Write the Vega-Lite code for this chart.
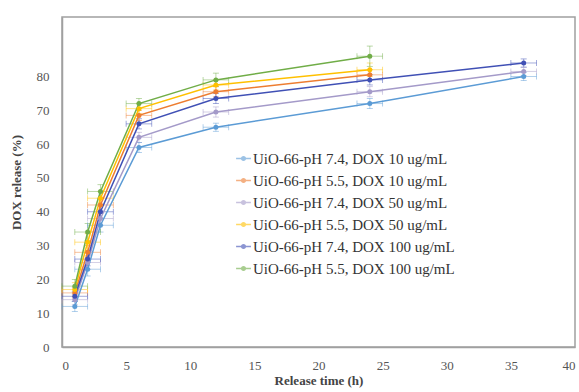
{
  "$schema": "https://vega.github.io/schema/vega-lite/v6.json",
  "width": 513,
  "height": 330,
  "autosize": "none",
  "padding": {"left": 62, "top": 17, "right": 4, "bottom": 45},
  "background": "white",
  "config": {
    "font": "Liberation Serif",
    "view": {"stroke": "#a0a0a0", "strokeWidth": 1.5}
  },
  "data": {"values": [
    {"s": "UiO-66-pH 7.4, DOX 10 ug/mL", "t": 1, "y": 12, "e": 1.5},
    {"s": "UiO-66-pH 7.4, DOX 10 ug/mL", "t": 2, "y": 23, "e": 2},
    {"s": "UiO-66-pH 7.4, DOX 10 ug/mL", "t": 3, "y": 36, "e": 2},
    {"s": "UiO-66-pH 7.4, DOX 10 ug/mL", "t": 6, "y": 59, "e": 1.5},
    {"s": "UiO-66-pH 7.4, DOX 10 ug/mL", "t": 12, "y": 65, "e": 1.2},
    {"s": "UiO-66-pH 7.4, DOX 10 ug/mL", "t": 24, "y": 72, "e": 1.5},
    {"s": "UiO-66-pH 7.4, DOX 10 ug/mL", "t": 36, "y": 80, "e": 1.2},
    {"s": "UiO-66-pH 5.5, DOX 10 ug/mL", "t": 1, "y": 16, "e": 1.5},
    {"s": "UiO-66-pH 5.5, DOX 10 ug/mL", "t": 2, "y": 28, "e": 2},
    {"s": "UiO-66-pH 5.5, DOX 10 ug/mL", "t": 3, "y": 42, "e": 2},
    {"s": "UiO-66-pH 5.5, DOX 10 ug/mL", "t": 6, "y": 68.5, "e": 1.5},
    {"s": "UiO-66-pH 5.5, DOX 10 ug/mL", "t": 12, "y": 75.5, "e": 1.5},
    {"s": "UiO-66-pH 5.5, DOX 10 ug/mL", "t": 24, "y": 80.5, "e": 1.5},
    {"s": "UiO-66-pH 7.4, DOX 50 ug/mL", "t": 1, "y": 14, "e": 1.5},
    {"s": "UiO-66-pH 7.4, DOX 50 ug/mL", "t": 2, "y": 25, "e": 2},
    {"s": "UiO-66-pH 7.4, DOX 50 ug/mL", "t": 3, "y": 38, "e": 2},
    {"s": "UiO-66-pH 7.4, DOX 50 ug/mL", "t": 6, "y": 62, "e": 1.5},
    {"s": "UiO-66-pH 7.4, DOX 50 ug/mL", "t": 12, "y": 69.5, "e": 1.5},
    {"s": "UiO-66-pH 7.4, DOX 50 ug/mL", "t": 24, "y": 75.5, "e": 1.5},
    {"s": "UiO-66-pH 7.4, DOX 50 ug/mL", "t": 36, "y": 81.5, "e": 1.2},
    {"s": "UiO-66-pH 5.5, DOX 50 ug/mL", "t": 1, "y": 17, "e": 2},
    {"s": "UiO-66-pH 5.5, DOX 50 ug/mL", "t": 2, "y": 31, "e": 2.5},
    {"s": "UiO-66-pH 5.5, DOX 50 ug/mL", "t": 3, "y": 44, "e": 2},
    {"s": "UiO-66-pH 5.5, DOX 50 ug/mL", "t": 6, "y": 70.5, "e": 1.5},
    {"s": "UiO-66-pH 5.5, DOX 50 ug/mL", "t": 12, "y": 77.5, "e": 1.5},
    {"s": "UiO-66-pH 5.5, DOX 50 ug/mL", "t": 24, "y": 82, "e": 2},
    {"s": "UiO-66-pH 7.4, DOX 100 ug/mL", "t": 1, "y": 15, "e": 1.5},
    {"s": "UiO-66-pH 7.4, DOX 100 ug/mL", "t": 2, "y": 26, "e": 2},
    {"s": "UiO-66-pH 7.4, DOX 100 ug/mL", "t": 3, "y": 40, "e": 2},
    {"s": "UiO-66-pH 7.4, DOX 100 ug/mL", "t": 6, "y": 66, "e": 1.5},
    {"s": "UiO-66-pH 7.4, DOX 100 ug/mL", "t": 12, "y": 73.5, "e": 1.5},
    {"s": "UiO-66-pH 7.4, DOX 100 ug/mL", "t": 24, "y": 79, "e": 1.5},
    {"s": "UiO-66-pH 7.4, DOX 100 ug/mL", "t": 36, "y": 84, "e": 1.2},
    {"s": "UiO-66-pH 5.5, DOX 100 ug/mL", "t": 1, "y": 18, "e": 2},
    {"s": "UiO-66-pH 5.5, DOX 100 ug/mL", "t": 2, "y": 34, "e": 2.5},
    {"s": "UiO-66-pH 5.5, DOX 100 ug/mL", "t": 3, "y": 46, "e": 2},
    {"s": "UiO-66-pH 5.5, DOX 100 ug/mL", "t": 6, "y": 72, "e": 1.5},
    {"s": "UiO-66-pH 5.5, DOX 100 ug/mL", "t": 12, "y": 79, "e": 2},
    {"s": "UiO-66-pH 5.5, DOX 100 ug/mL", "t": 24, "y": 86, "e": 3}
  ]},
  "transform": [
    {"calculate": "datum.y - datum.e", "as": "ylo"},
    {"calculate": "datum.y + datum.e", "as": "yhi"},
    {"calculate": "datum.t - 1", "as": "tlo"},
    {"calculate": "datum.t + 1", "as": "thi"}
  ],
  "encoding": {
    "color": {
      "field": "s", "type": "nominal",
      "scale": {
        "domain": ["UiO-66-pH 7.4, DOX 10 ug/mL", "UiO-66-pH 5.5, DOX 10 ug/mL", "UiO-66-pH 7.4, DOX 50 ug/mL", "UiO-66-pH 5.5, DOX 50 ug/mL", "UiO-66-pH 7.4, DOX 100 ug/mL", "UiO-66-pH 5.5, DOX 100 ug/mL"],
        "range": ["#5b9bd5", "#ed7d31", "#a49ac9", "#ffc000", "#4050b5", "#70ad47"]
      },
      "legend": {
        "title": null,
        "orient": "none",
        "legendX": 173,
        "legendY": 133,
        "labelFont": "Liberation Serif",
        "labelFontSize": 15,
        "labelColor": "#333",
        "labelLimit": 400,
        "rowPadding": 5,
        "symbolType": "M-1,0L1,0M-0.25,0A0.25,0.25 0 1 1 0.25,0A0.25,0.25 0 1 1 -0.25,0",
        "symbolSize": 220,
        "symbolStrokeWidth": 1.5,
        "labelOffset": 1
      }
    }
  },
  "layer": [
    {
      "mark": {"type": "errorbar", "ticks": {"size": 6}, "thickness": 0.8, "opacity": 0.6},
      "encoding": {
        "x": {"field": "t", "type": "quantitative", "title": "Release time (h)"},
        "y": {"field": "ylo", "type": "quantitative", "title": "DOX release (%)"},
        "y2": {"field": "yhi"}
      }
    },
    {
      "mark": {"type": "errorbar", "ticks": {"size": 6}, "thickness": 0.8, "opacity": 0.6},
      "encoding": {
        "x": {"field": "tlo", "type": "quantitative", "title": "Release time (h)"},
        "x2": {"field": "thi"},
        "y": {"field": "y", "type": "quantitative", "title": "DOX release (%)"}
      }
    },
    {
      "mark": {"type": "line", "strokeWidth": 1.5, "point": {"filled": true, "size": 25}},
      "encoding": {
        "x": {
          "field": "t", "type": "quantitative",
          "scale": {"domain": [0, 40], "nice": false},
          "axis": {
            "title": "Release time (h)",
            "titleFont": "Liberation Serif", "titleFontSize": 13, "titleFontWeight": "bold", "titleColor": "#444",
            "titlePadding": 2,
            "values": [0, 5, 10, 15, 20, 25, 30, 35, 40],
            "labelFont": "Liberation Serif", "labelFontSize": 13, "labelColor": "#555",
            "labelPadding": 12,
            "ticks": false, "grid": false,
            "domainColor": "#a0a0a0", "domainWidth": 1.5
          }
        },
        "y": {
          "field": "y", "type": "quantitative",
          "scale": {"domain": [0, 97.6], "nice": false},
          "axis": {
            "title": "DOX release (%)",
            "titleFont": "Liberation Serif", "titleFontSize": 13, "titleFontWeight": "bold", "titleColor": "#444",
            "titlePadding": 13,
            "values": [0, 10, 20, 30, 40, 50, 60, 70, 80],
            "labelFont": "Liberation Serif", "labelFontSize": 13, "labelColor": "#555",
            "labelPadding": 13,
            "ticks": false, "grid": false,
            "domainColor": "#a0a0a0", "domainWidth": 1.5
          }
        }
      }
    }
  ]
}
